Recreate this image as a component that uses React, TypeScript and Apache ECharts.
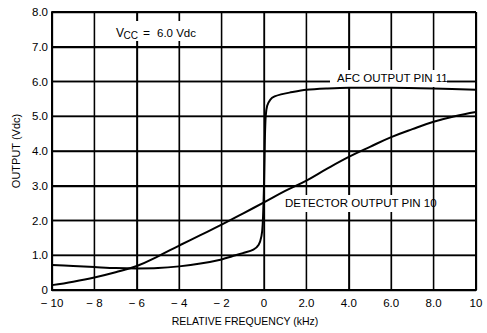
import React, { useEffect, useRef } from "react";
import * as echarts from "echarts";

const FONT = "'Liberation Sans', Arial, sans-serif";

const xTicks = [-10, -8, -6, -4, -2, 0, 2, 4, 6, 8, 10];
const xTickLabels = ["\u2212 10", "\u2212 8", "\u2212 6", "\u2212 4", "\u2212 2", "0", "2.0", "4.0", "6.0", "8.0", "10"];
const yTicks = [0, 1, 2, 3, 4, 5, 6, 7, 8];
const yTickLabels = ["0", "1.0", "2.0", "3.0", "4.0", "5.0", "6.0", "7.0", "8.0"];

const detectorX = [-10, -9, -8, -7, -6, -5, -4, -3, -2, -1, 0, 1, 2, 3, 4, 5, 6, 7, 8, 9, 10];
const detectorY = [0.14, 0.24, 0.36, 0.51, 0.69, 0.97, 1.28, 1.58, 1.88, 2.2, 2.52, 2.85, 3.15, 3.5, 3.83, 4.12, 4.4, 4.63, 4.84, 5.0, 5.12];

const afcX = [-10, -9, -8, -7, -6, -5, -4, -3, -2, -1.5, -1.0, -0.5, -0.25, -0.12, -0.06, 0.0, 0.04, 0.08, 0.15, 0.3, 0.5, 0.8, 1.2, 2, 3, 4, 6, 8, 10];
const afcY = [0.72, 0.69, 0.66, 0.63, 0.62, 0.63, 0.68, 0.76, 0.88, 0.97, 1.06, 1.16, 1.3, 1.55, 1.9, 3.0, 4.3, 5.0, 5.3, 5.48, 5.57, 5.63, 5.68, 5.76, 5.8, 5.82, 5.82, 5.8, 5.76];

const afcLabel = "AFC OUTPUT PIN 11";
const detectorLabel = "DETECTOR OUTPUT PIN 10";
const xName = "RELATIVE FREQUENCY (kHz)";
const yName = "OUTPUT (Vdc)";

export default function App() {
  const ref = useRef<HTMLDivElement>(null);
  useEffect(() => {
    if (!ref.current) return;
    document.body.style.margin = "0";
    const chart = echarts.init(ref.current, null, { renderer: "svg" });
    const xMin = xTicks[0];
    const xMax = xTicks[xTicks.length - 1];
    const yMin = yTicks[0];
    const yMax = yTicks[yTicks.length - 1];

    const gridSeries: any[] = [];
    xTicks.forEach((x) => {
      const edge = x === xMin || x === xMax;
      gridSeries.push({
        type: "line",
        data: [[x, yMin], [x, yMax]],
        showSymbol: false,
        silent: true,
        clip: false,
        lineStyle: { color: "#000", width: edge ? 2 : 1.3 },
        z: 1,
      });
    });
    yTicks.forEach((y) => {
      const edge = y === yMin || y === yMax;
      gridSeries.push({
        type: "line",
        data: [[xMin, y], [xMax, y]],
        showSymbol: false,
        silent: true,
        clip: false,
        lineStyle: { color: "#000", width: edge ? 2 : 1.3 },
        z: 1,
      });
    });

    const option = {
      animation: false,
      grid: { left: 52, right: 11, top: 12, bottom: 43 },
      xAxis: {
        type: "value",
        min: xMin,
        max: xMax,
        interval: 2,
        axisLine: { show: true, onZero: false, lineStyle: { color: "#000", width: 2 } },
        axisTick: { show: false },
        splitLine: { show: true, lineStyle: { color: "#000", width: 1.3 } },
        name: xName,
        nameLocation: "middle",
        nameGap: 25,
        nameTextStyle: { color: "#000", fontFamily: FONT, fontSize: 10.5, padding: [0, 38, 0, 0] },
        axisLabel: {
          margin: 7,
          color: "#000",
          fontFamily: FONT,
          fontSize: 11.5,
          formatter: (v: number) => {
            const i = xTicks.indexOf(Math.round(v));
            return i >= 0 ? xTickLabels[i] : "";
          },
        },
      },
      yAxis: {
        type: "value",
        min: yMin,
        max: yMax,
        interval: 1,
        axisLine: { show: true, onZero: false, lineStyle: { color: "#000", width: 2 } },
        axisTick: { show: false },
        splitLine: { show: true, lineStyle: { color: "#000", width: 1.3 } },
        name: yName,
        nameLocation: "middle",
        nameRotate: 90,
        nameGap: 30,
        nameTextStyle: { color: "#000", fontFamily: FONT, fontSize: 11 },
        axisLabel: {
          margin: 4,
          color: "#000",
          fontFamily: FONT,
          fontSize: 11.5,
          formatter: (v: number) => {
            const i = yTicks.indexOf(Math.round(v));
            return i >= 0 ? yTickLabels[i] : "";
          },
        },
      },
      series: [
        ...gridSeries,
        {
          name: detectorLabel,
          type: "line",
          data: detectorX.map((x, i) => [x, detectorY[i]]),
          showSymbol: false,
          smooth: 0.4,
          lineStyle: { color: "#000", width: 2 },
          z: 3,
        },
        {
          name: afcLabel,
          type: "line",
          data: afcX.map((x, i) => [x, afcY[i]]),
          showSymbol: false,
          smooth: 0.3,
          lineStyle: { color: "#000", width: 2 },
          z: 3,
        },
      ],
      graphic: [
        { type: "rect", shape: { x: 108, y: 21, width: 92, height: 20 }, style: { fill: "#fff" }, z: 2 },
        { type: "rect", shape: { x: 330, y: 70, width: 117, height: 17 }, style: { fill: "#fff" }, z: 2 },
        { type: "rect", shape: { x: 280, y: 195, width: 148, height: 17 }, style: { fill: "#fff" }, z: 2 },
        { type: "text", x: 116, y: 33, z: 4, style: { text: "V", fontFamily: FONT, fontSize: 12, fill: "#000", verticalAlign: "middle" } },
        { type: "text", x: 123.5, y: 35.5, z: 4, style: { text: "CC", fontFamily: FONT, fontSize: 10, fill: "#000", verticalAlign: "middle" } },
        { type: "text", x: 143, y: 33, z: 4, style: { text: "=", fontFamily: FONT, fontSize: 12, fill: "#000", verticalAlign: "middle" } },
        { type: "text", x: 157, y: 33, z: 4, style: { text: "6.0 Vdc", fontFamily: FONT, fontSize: 11.5, fill: "#000", verticalAlign: "middle" } },
        { type: "text", x: 337, y: 78, z: 4, style: { text: afcLabel, fontFamily: FONT, fontSize: 11.5, fill: "#000", verticalAlign: "middle" } },
        { type: "text", x: 285, y: 203, z: 4, style: { text: detectorLabel, fontFamily: FONT, fontSize: 11.5, fill: "#000", verticalAlign: "middle" } },
      ],
    };
    chart.setOption(option as any);
    return () => chart.dispose();
  }, []);
  return <div ref={ref} style={{ width: 487, height: 333 }} />;
}
